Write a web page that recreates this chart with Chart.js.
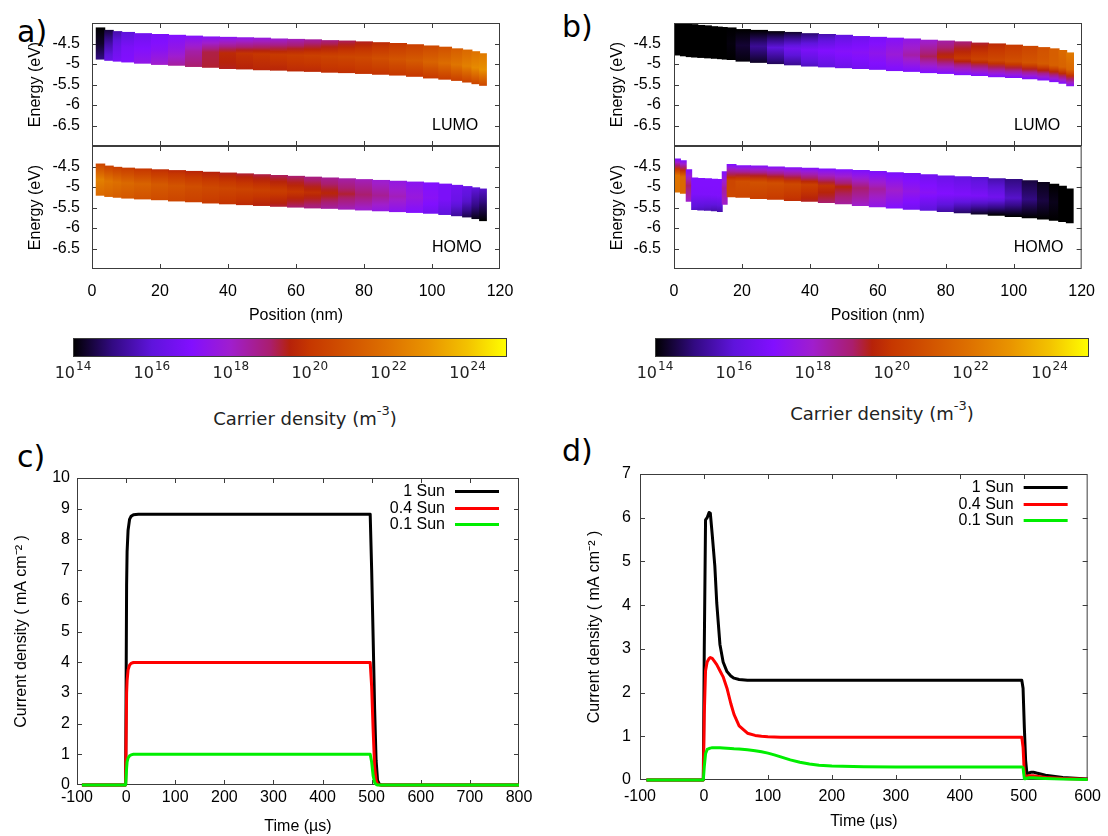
<!DOCTYPE html>
<html>
<head>
<meta charset="utf-8">
<script src="https://cdn.jsdelivr.net/npm/chart.js@4.4.1/dist/chart.umd.min.js"></script>
<style>
  body { margin: 0; background: #fff; }
  #fig { position: relative; width: 1108px; height: 836px; overflow: hidden; background: #fff; }
  #fig canvas { position: absolute; }
  .tag { position: absolute; font: 30px "DejaVu Sans"; line-height: 30px; color: #000; white-space: nowrap; }
  .cbt { position: absolute; width: 320px; text-align: center; font: 18px "DejaVu Sans"; line-height: 20px; color: #222; white-space: nowrap; }
  .cbt sup { font-size: 13px; line-height: 0; position: relative; top: -3px; }
</style>
</head>
<body>
<div id="fig">
  <div class="tag" style="left:17px;top:17px">a)</div>
  <div class="tag" style="left:562px;top:12px">b)</div>
  <div class="tag" style="left:17px;top:442px">c)</div>
  <div class="tag" style="left:562px;top:436px">d)</div>
  <div class="cbt" style="left:145px;top:409px">Carrier density (m<sup>-3</sup>)</div>
  <div class="cbt" style="left:722px;top:404px">Carrier density (m<sup>-3</sup>)</div>
</div>
<script>
// ---- band diagrams: position (nm), band edges (eV), log10 carrier density at top / centre / bottom of band
const posA = [2.5, 5, 7.5, 10, 15, 20, 25, 30, 35, 40, 45, 50, 55, 60, 65, 70, 75, 80, 85, 90, 95, 100, 104, 107.5, 110.5, 113, 115];

const lumoATop = [-4.12, -4.18, -4.21, -4.23, -4.26, -4.28, -4.30, -4.32, -4.34, -4.35, -4.36, -4.37, -4.39, -4.40, -4.41, -4.43, -4.44, -4.46, -4.48, -4.50, -4.53, -4.56, -4.59, -4.63, -4.66, -4.70, -4.75];
const lumoABot = [-4.88, -4.91, -4.93, -4.95, -4.98, -5.01, -5.03, -5.06, -5.08, -5.11, -5.12, -5.14, -5.15, -5.17, -5.18, -5.20, -5.21, -5.23, -5.25, -5.27, -5.30, -5.34, -5.37, -5.40, -5.44, -5.48, -5.52];
const lumoADenTop = [14.0, 14.5, 15.5, 16.0, 16.5, 16.8, 17.0, 17.1, 17.2, 17.3, 17.5, 17.7, 17.9, 18.2, 18.5, 18.8, 19.1, 19.4, 19.7, 20.0, 20.3, 20.6, 20.9, 21.3, 21.7, 22.0, 22.2];
const lumoADenMid = [14.3, 15.5, 16.3, 16.8, 17.0, 17.2, 17.6, 18.4, 19.2, 19.7, 19.9, 20.0, 20.1, 20.2, 20.3, 20.4, 20.5, 20.6, 20.8, 21.0, 21.2, 21.5, 21.8, 22.1, 22.4, 22.7, 22.9];
const lumoADenBot = [15.0, 16.3, 16.8, 17.0, 17.5, 18.0, 18.5, 19.0, 19.3, 19.4, 19.5, 19.6, 19.6, 19.7, 19.7, 19.8, 19.8, 19.9, 19.9, 20.0, 20.0, 20.1, 20.2, 20.3, 20.4, 20.5, 20.6];

const homoATop = [-4.44, -4.49, -4.52, -4.54, -4.56, -4.58, -4.60, -4.62, -4.64, -4.66, -4.68, -4.70, -4.72, -4.74, -4.76, -4.78, -4.80, -4.82, -4.84, -4.86, -4.88, -4.90, -4.93, -4.96, -4.99, -5.02, -5.05];
const homoABot = [-5.20, -5.23, -5.25, -5.27, -5.29, -5.31, -5.34, -5.36, -5.39, -5.41, -5.43, -5.45, -5.47, -5.49, -5.51, -5.52, -5.54, -5.56, -5.58, -5.60, -5.62, -5.64, -5.67, -5.70, -5.73, -5.77, -5.82];
const homoADenTop = [20.5, 20.4, 20.3, 20.2, 20.0, 19.8, 19.7, 19.6, 19.5, 19.4, 19.3, 19.2, 19.1, 19.0, 18.8, 18.6, 18.4, 18.2, 17.9, 17.6, 17.3, 17.0, 16.8, 16.6, 16.3, 16.0, 15.8];
const homoADenMid = [22.4, 22.1, 21.9, 21.7, 21.5, 21.2, 21.0, 20.8, 20.6, 20.5, 20.4, 20.3, 20.2, 20.0, 19.8, 19.6, 19.3, 19.0, 18.6, 18.2, 17.7, 17.2, 16.8, 16.3, 15.8, 15.2, 14.8];
const homoADenBot = [21.7, 21.5, 21.3, 21.1, 20.9, 20.7, 20.5, 20.3, 20.1, 19.9, 19.7, 19.5, 19.3, 19.0, 18.8, 18.5, 18.2, 17.9, 17.6, 17.3, 17.0, 16.6, 16.0, 15.3, 14.6, 14.2, 14.0];

const posB = [1, 2.8, 4.4, 6, 8, 10, 12, 13.6, 14.8, 16.5, 20, 25, 30, 35, 40, 45, 50, 55, 60, 65, 70, 75, 80, 85, 90, 95, 100, 105, 109, 112, 114.5, 116.5];

const lumoBTop = [-4.01, -4.02, -4.03, -4.04, -4.06, -4.07, -4.09, -4.10, -4.11, -4.12, -4.16, -4.18, -4.21, -4.23, -4.26, -4.28, -4.30, -4.33, -4.35, -4.37, -4.39, -4.42, -4.44, -4.46, -4.49, -4.51, -4.54, -4.57, -4.60, -4.63, -4.67, -4.73];
const lumoBBot = [-4.78, -4.80, -4.82, -4.83, -4.84, -4.85, -4.86, -4.87, -4.88, -4.89, -4.93, -4.96, -4.99, -5.02, -5.05, -5.07, -5.09, -5.11, -5.13, -5.16, -5.18, -5.21, -5.23, -5.26, -5.28, -5.31, -5.33, -5.36, -5.39, -5.43, -5.47, -5.53];
const lumoBDenTop = [14.0, 14.0, 14.0, 14.0, 14.0, 14.0, 14.0, 14.0, 14.0, 14.0, 14.0, 14.0, 14.1, 14.4, 14.9, 15.5, 16.1, 16.5, 16.8, 17.1, 17.5, 17.9, 18.4, 18.9, 19.3, 19.7, 20.1, 20.5, 20.9, 21.3, 21.7, 22.2];
const lumoBDenMid = [14.0, 14.0, 14.0, 14.0, 14.0, 14.0, 14.0, 14.0, 14.0, 14.1, 14.4, 15.2, 16.0, 16.5, 16.8, 17.0, 17.1, 17.2, 17.4, 17.8, 18.4, 19.1, 19.7, 20.1, 20.4, 20.6, 20.8, 21.0, 21.2, 21.4, 21.5, 21.6];
const lumoBDenBot = [14.0, 14.0, 14.0, 14.0, 14.0, 14.0, 14.0, 14.0, 14.0, 14.0, 14.1, 14.3, 14.7, 15.2, 15.7, 16.1, 16.4, 16.6, 16.8, 16.9, 16.9, 17.0, 17.0, 17.0, 17.0, 17.0, 17.0, 17.0, 17.0, 17.0, 17.1, 17.2];

const homoBTop = [-4.32, -4.36, -4.58, -4.78, -4.79, -4.80, -4.81, -4.82, -4.63, -4.45, -4.48, -4.49, -4.51, -4.53, -4.54, -4.56, -4.58, -4.60, -4.62, -4.65, -4.67, -4.70, -4.73, -4.75, -4.77, -4.80, -4.82, -4.85, -4.89, -4.93, -4.98, -5.05];
const homoBBot = [-5.12, -5.15, -5.35, -5.55, -5.56, -5.57, -5.58, -5.60, -5.42, -5.24, -5.25, -5.28, -5.30, -5.33, -5.35, -5.38, -5.41, -5.45, -5.48, -5.51, -5.54, -5.57, -5.60, -5.63, -5.66, -5.69, -5.72, -5.75, -5.78, -5.81, -5.84, -5.87];
const homoBDenTop = [17.0, 17.0, 17.0, 17.0, 17.0, 17.0, 17.0, 17.0, 17.0, 17.0, 17.1, 17.2, 17.2, 17.2, 17.1, 17.0, 17.0, 16.9, 16.9, 16.8, 16.7, 16.6, 16.4, 16.2, 15.9, 15.5, 15.0, 14.5, 14.2, 14.0, 14.0, 14.0];
const homoBDenMid = [22.0, 21.7, 19.0, 16.9, 16.9, 16.9, 16.9, 16.9, 18.5, 20.5, 20.8, 20.9, 20.8, 20.6, 20.3, 19.9, 19.5, 19.0, 18.5, 18.0, 17.5, 17.2, 17.0, 16.9, 16.8, 16.5, 15.8, 15.0, 14.5, 14.2, 14.0, 14.0];
const homoBDenBot = [22.0, 21.7, 18.0, 15.8, 15.7, 15.6, 15.5, 15.5, 18.0, 20.6, 20.5, 20.3, 20.1, 19.8, 19.4, 19.0, 18.5, 18.0, 17.5, 17.0, 16.6, 16.0, 15.4, 14.8, 14.3, 14.0, 14.0, 14.0, 14.0, 14.0, 14.0, 14.0];

// colour bar decades (log10 m^-3)
const cbDecades = [14, 15, 16, 17, 18, 19, 20, 21, 22, 23, 24, 25];

// ---- transient photocurrent (time in µs, current density in mA cm^-2)
const sunLabels = ['1 Sun', '0.4 Sun', '0.1 Sun'];

const timeC = [-90, -1, 1, 2, 4, 7, 10, 15, 25, 100, 200, 300, 400, 497, 500, 503, 506, 509, 512, 516, 520, 600, 700, 800];
const j1C   = [0, 0, 6.5, 7.6, 8.3, 8.65, 8.75, 8.8, 8.82, 8.82, 8.82, 8.82, 8.82, 8.82, 7.0, 4.8, 2.5, 0.8, 0.15, 0.02, 0, 0, 0, 0];
const j04C  = [0, 0, 3.0, 3.4, 3.75, 3.9, 3.96, 3.99, 3.99, 3.99, 3.99, 3.99, 3.99, 3.99, 3.2, 1.8, 0.6, 0.15, 0.03, 0, 0, 0, 0, 0];
const j01C  = [0, 0, 0.55, 0.75, 0.88, 0.95, 0.98, 1.0, 1.0, 1.0, 1.0, 1.0, 1.0, 1.0, 0.75, 0.3, 0.08, 0.02, 0, 0, 0, 0, 0, 0];

const timeD = [-90, -1, 0.5, 2.5, 5, 8, 10, 13, 17, 20, 25, 30, 36, 42, 47, 55, 68, 80, 90, 100, 110, 120, 135, 150, 165, 180, 200, 250, 300, 400, 497, 499, 501, 503, 505, 508, 512, 515, 520, 534, 561, 600];
const j1D   = [0, 0, 3.0, 5.95, 6.0, 6.12, 6.1, 5.6, 4.9, 4.05, 3.1, 2.7, 2.48, 2.38, 2.33, 2.3, 2.28, 2.28, 2.28, 2.28, 2.28, 2.28, 2.28, 2.28, 2.28, 2.28, 2.28, 2.28, 2.28, 2.28, 2.28, 2.1, 1.2, 0.45, 0.15, 0.16, 0.18, 0.18, 0.16, 0.11, 0.06, 0.025];
const j04D  = [0, 0, 1.5, 2.5, 2.7, 2.78, 2.8, 2.78, 2.7, 2.64, 2.5, 2.36, 2.1, 1.75, 1.5, 1.24, 1.07, 1.02, 1.0, 0.99, 0.985, 0.98, 0.98, 0.98, 0.98, 0.98, 0.98, 0.98, 0.98, 0.98, 0.98, 0.75, 0.15, 0.07, 0.08, 0.1, 0.1, 0.095, 0.085, 0.06, 0.035, 0.02];
const j01D  = [0, 0, 0.3, 0.6, 0.7, 0.72, 0.73, 0.74, 0.74, 0.74, 0.735, 0.73, 0.725, 0.72, 0.715, 0.71, 0.69, 0.67, 0.645, 0.615, 0.575, 0.53, 0.46, 0.405, 0.365, 0.34, 0.32, 0.305, 0.3, 0.3, 0.3, 0.28, 0.03, 0.03, 0.04, 0.05, 0.05, 0.05, 0.045, 0.035, 0.02, 0.01];

// ---- colour map for log10 density
const palLog = [14, 15, 16, 17, 18, 19, 19.5, 20, 21, 22, 23, 24, 25];
const palRGB = [[0,0,0],[50,10,130],[95,20,220],[130,15,255],[160,30,205],[170,30,110],[182,34,10],[198,55,0],[210,84,0],[222,114,0],[233,148,0],[243,194,0],[255,255,0]];

function colourAt(lg) {
  if (lg <= palLog[0]) return 'rgb(0,0,0)';
  for (let k = 1; k < palLog.length; k++) {
    if (lg <= palLog[k]) {
      const f = (lg - palLog[k - 1]) / (palLog[k] - palLog[k - 1]);
      const a = palRGB[k - 1], b = palRGB[k];
      return 'rgb(' + a.map((v, j) => Math.round(v + (b[j] - v) * f)).join(',') + ')';
    }
  }
  return 'rgb(255,255,0)';
}

Chart.defaults.font.family = '"Liberation Sans", Arial, sans-serif';
Chart.defaults.font.size = 16;
Chart.defaults.color = '#000';

function frameRect(chart) {
  const { ctx, chartArea: a } = chart;
  ctx.save();
  ctx.strokeStyle = '#3c3c3c';
  ctx.lineWidth = 1;
  ctx.strokeRect(a.left + 0.5, a.top + 0.5, a.right - a.left - 1, a.bottom - a.top - 1);
  ctx.restore();
}

// box round the plot area with gnuplot-style inward ticks on all four sides
const framePlugin = {
  id: 'frame',
  beforeDraw(chart, args, o) { if (o.under) frameRect(chart); },
  beforeDatasetsDraw(chart, args, o) {
    const { ctx, chartArea: a } = chart;
    const L = o.tick || 5;
    ctx.save();
    ctx.strokeStyle = '#3c3c3c';
    ctx.lineWidth = 1;
    ctx.beginPath();
    for (const id of (o.axes || ['x', 'y'])) {
      const s = chart.scales[id];
      for (const t of s.ticks) {
        const p = Math.round(s.getPixelForValue(t.value)) + 0.5;
        if (s.isHorizontal()) {
          if (p <= a.left + 1 || p >= a.right - 1) continue;
          ctx.moveTo(p, a.bottom); ctx.lineTo(p, a.bottom - L);
          ctx.moveTo(p, a.top); ctx.lineTo(p, a.top + L);
        } else {
          if (p <= a.top + 1 || p >= a.bottom - 1) continue;
          ctx.moveTo(a.left, p); ctx.lineTo(a.left + L, p);
          ctx.moveTo(a.right, p); ctx.lineTo(a.right - L, p);
        }
      }
    }
    ctx.stroke();
    ctx.restore();
  },
  afterDraw(chart, args, o) { if (!o.under) frameRect(chart); }
};

// LUMO / HOMO caption inside the band panels
const tagPlugin = {
  id: 'tag',
  afterDraw(chart, args, o) {
    if (!o.text) return;
    const { ctx, chartArea: a } = chart;
    ctx.save();
    ctx.font = '16px "Liberation Sans", Arial, sans-serif';
    ctx.fillStyle = '#000';
    ctx.textAlign = 'left';
    ctx.textBaseline = 'middle';
    ctx.fillText(o.text, a.right - 68, a.top + o.dy);
    ctx.restore();
  }
};

// key in the top right corner: label, then a line sample
const keyPlugin = {
  id: 'key',
  afterDraw(chart) {
    const { ctx, chartArea: a } = chart;
    ctx.save();
    ctx.font = '16px "Liberation Sans", Arial, sans-serif';
    ctx.textAlign = 'right';
    ctx.textBaseline = 'middle';
    chart.data.datasets.forEach((ds, i) => {
      const y = Math.round(a.top + 13 + i * 16.6) + 0.5;
      ctx.fillStyle = '#000';
      ctx.fillText(ds.label, a.right - 74, y);
      ctx.strokeStyle = ds.borderColor;
      ctx.lineWidth = 3;
      ctx.beginPath();
      ctx.moveTo(a.right - 64, y);
      ctx.lineTo(a.right - 20, y);
      ctx.stroke();
    });
    ctx.restore();
  }
};

// colour bar labels: 10 with a raised exponent, every second decade
const decadeLabelPlugin = {
  id: 'decades',
  afterDraw(chart) {
    const { ctx, chartArea: a } = chart;
    const xs = chart.scales.x;
    const base = a.bottom + 20.5;
    ctx.save();
    ctx.fillStyle = '#222';
    ctx.textBaseline = 'alphabetic';
    ctx.textAlign = 'left';
    cbDecades.forEach(e => {
      if (e % 2 !== 0 || e === cbDecades[cbDecades.length - 1]) return;
      const px = xs.getPixelForValue(Math.pow(10, e));
      ctx.font = '16px "DejaVu Sans"';
      const w1 = ctx.measureText('10').width;
      ctx.font = '12px "DejaVu Sans"';
      const w2 = ctx.measureText(String(e)).width;
      const x0 = px - (w1 + w2 + 1) / 2;
      ctx.font = '16px "DejaVu Sans"';
      ctx.fillText('10', x0, base);
      ctx.font = '12px "DejaVu Sans"';
      ctx.fillText(String(e), x0 + w1 + 1, base - 8);
    });
    ctx.restore();
  }
};

function place(id, left, top, w, h) {
  const c = document.createElement('canvas');
  c.id = id;
  c.width = w; c.height = h;
  c.style.left = left + 'px'; c.style.top = top + 'px';
  c.style.width = w + 'px'; c.style.height = h + 'px';
  document.getElementById('fig').appendChild(c);
  return c;
}

// vertical colour gradient for one band column
function bandFill(dTop, dMid, dBot) {
  return function (c) {
    const i = c.dataIndex;
    const chart = c.chart;
    const ys = chart.scales && chart.scales.y;
    if (i === undefined || !ys || !c.raw) return '#000';
    const y0 = ys.getPixelForValue(c.raw.y[1]);
    const y1 = ys.getPixelForValue(c.raw.y[0]);
    if (!isFinite(y0) || !isFinite(y1) || y1 - y0 < 1) return colourAt(dMid[i]);
    const g = chart.ctx.createLinearGradient(0, y0, 0, y1);
    for (let s = 0; s <= 10; s++) {
      const f = s / 10;
      const lg = f <= 0.5 ? dTop[i] + (dMid[i] - dTop[i]) * f * 2
                          : dMid[i] + (dBot[i] - dMid[i]) * (f - 0.5) * 2;
      g.addColorStop(f, colourAt(lg));
    }
    return g;
  };
}

const quiet = { legend: { display: false }, tooltip: { enabled: false } };

function bandChart(canvas, o) {
  return new Chart(canvas, {
    type: 'bar',
    data: {
      datasets: [{
        data: o.pos.map((x, i) => ({ x: x, y: [o.bot[i], o.top[i]] })),
        backgroundColor: bandFill(o.dTop, o.dMid, o.dBot),
        borderWidth: 0,
        barThickness: 'flex',
        categoryPercentage: 1,
        barPercentage: 1,
        inflateAmount: 0.5
      }]
    },
    options: {
      responsive: false, animation: false, events: [],
      layout: { padding: o.pad },
      plugins: Object.assign({ frame: { tick: 5 }, tag: { text: o.tag, dy: o.tagY } }, quiet),
      scales: {
        x: {
          type: 'linear', offset: false, min: 0, max: 120,
          grid: { display: false, drawTicks: false }, border: { display: false },
          ticks: { stepSize: 20, display: o.xLabels, padding: 13, autoSkip: false, maxRotation: 0 },
          title: { display: o.xLabels, text: 'Position (nm)', padding: { top: 0, bottom: 10 } },
          afterFit: s => { s.height = o.xh; }
        },
        y: {
          min: -7, max: -4,
          grid: { display: false, drawTicks: false }, border: { display: false },
          ticks: { stepSize: 0.5, padding: o.yPad, autoSkip: false, callback: v => (v <= -7 || v >= -4) ? '' : v },
          title: { display: true, text: 'Energy (eV)', padding: { top: o.yTitle, bottom: 0 } },
          afterFit: s => { s.width = o.yw; }
        }
      }
    },
    plugins: [framePlugin, tagPlugin]
  });
}

function colourBar(canvas, padLeft, padRight) {
  const lo = Math.pow(10, cbDecades[0]);
  const hi = Math.pow(10, cbDecades[cbDecades.length - 1]);
  return new Chart(canvas, {
    type: 'bar',
    data: {
      labels: [''],
      datasets: [{
        data: [[lo, hi]],
        backgroundColor: c => {
          const xs = c.chart.scales && c.chart.scales.x;
          if (!xs) return '#000';
          const x0 = xs.getPixelForValue(lo), x1 = xs.getPixelForValue(hi);
          if (!isFinite(x0) || !isFinite(x1) || x1 - x0 < 1) return '#000';
          const g = c.chart.ctx.createLinearGradient(x0, 0, x1, 0);
          palLog.forEach(v => g.addColorStop((v - palLog[0]) / (palLog[palLog.length - 1] - palLog[0]), colourAt(v)));
          return g;
        },
        borderWidth: 0, categoryPercentage: 1, barPercentage: 1, inflateAmount: 0
      }]
    },
    options: {
      indexAxis: 'y',
      responsive: false, animation: false, events: [],
      layout: { padding: { left: padLeft, right: padRight, top: 18, bottom: 0 } },
      plugins: Object.assign({ frame: { tick: 4, axes: ['x'] } }, quiet),
      scales: {
        x: {
          type: 'logarithmic', min: lo, max: hi,
          grid: { display: false, drawTicks: false }, border: { display: false },
          afterBuildTicks: s => { s.ticks = cbDecades.map(e => ({ value: Math.pow(10, e) })); },
          ticks: { display: false },
          afterFit: s => { s.height = 63; }
        },
        y: { display: false }
      }
    },
    plugins: [framePlugin, decadeLabelPlugin]
  });
}

function currentChart(canvas, o) {
  const colours = ['#000000', '#ff0000', '#00ee00'];
  return new Chart(canvas, {
    type: 'line',
    data: {
      datasets: o.series.map((vals, k) => ({
        label: sunLabels[k],
        data: o.time.map((t, i) => ({ x: t, y: vals[i] })),
        borderColor: colours[k],
        borderWidth: 3,
        borderJoinStyle: 'round',
        pointRadius: 0,
        tension: 0,
        fill: false,
        clip: 3,
        order: o.series.length - k
      }))
    },
    options: {
      responsive: false, animation: false, events: [],
      layout: { padding: o.pad },
      plugins: Object.assign({ frame: { tick: 5, under: true } }, quiet),
      scales: {
        x: {
          type: 'linear', min: -100, max: o.xMax,
          grid: { display: false, drawTicks: false }, border: { display: false },
          ticks: { stepSize: 100, padding: o.xPad, autoSkip: false, maxRotation: 0 },
          title: { display: true, text: 'Time (µs)', padding: { top: 0, bottom: o.xTitle } },
          afterFit: s => { s.height = o.xh; }
        },
        y: {
          min: 0, max: o.yMax,
          grid: { display: false, drawTicks: false }, border: { display: false },
          ticks: { stepSize: 1, padding: o.yPad, autoSkip: false },
          title: { display: true, text: 'Current density ( mA cm⁻² )', padding: { top: o.yTitle, bottom: 0 } },
          afterFit: s => { s.width = o.yw; }
        }
      }
    },
    plugins: [framePlugin, keyPlugin]
  });
}

// a) LUMO / HOMO  (the LUMO canvas runs past the panel join so its labels have room)
bandChart(place('aLumo', 0, 0, 540, 170), {
  pos: posA, top: lumoATop, bot: lumoABot, dTop: lumoADenTop, dMid: lumoADenMid, dBot: lumoADenBot,
  tag: 'LUMO', tagY: 103, xLabels: false, xh: 24, yw: 92, yPad: 12, yTitle: 26,
  pad: { left: 0, right: 40, top: 23, bottom: 0 }
});
bandChart(place('aHomo', 0, 120, 540, 215), {
  pos: posA, top: homoATop, bot: homoABot, dTop: homoADenTop, dMid: homoADenMid, dBot: homoADenBot,
  tag: 'HOMO', tagY: 102, xLabels: true, xh: 66, yw: 92, yPad: 12, yTitle: 26,
  pad: { left: 0, right: 40, top: 26, bottom: 0 }
});

// b) LUMO / HOMO
bandChart(place('bLumo', 554, 0, 554, 170), {
  pos: posB, top: lumoBTop, bot: lumoBBot, dTop: lumoBDenTop, dMid: lumoBDenMid, dBot: lumoBDenBot,
  tag: 'LUMO', tagY: 103, xLabels: false, xh: 24, yw: 120, yPad: 13, yTitle: 54,
  pad: { left: 0, right: 26, top: 23, bottom: 0 }
});
bandChart(place('bHomo', 554, 120, 554, 215), {
  pos: posB, top: homoBTop, bot: homoBBot, dTop: homoBDenTop, dMid: homoBDenMid, dBot: homoBDenBot,
  tag: 'HOMO', tagY: 102, xLabels: true, xh: 66, yw: 120, yPad: 13, yTitle: 54,
  pad: { left: 0, right: 26, top: 26, bottom: 0 }
});

// colour bars
colourBar(place('cbA', 0, 320, 540, 100), 73, 33);
colourBar(place('cbB', 554, 320, 554, 100), 101, 19);

// c) and d) transients
currentChart(place('cPlot', 0, 430, 554, 406), {
  time: timeC, series: [j1C, j04C, j01C], xMax: 800, yMax: 10,
  xh: 51, xPad: 3, xTitle: 0, yw: 77, yPad: 7, yTitle: 12,
  pad: { left: 0, right: 35, top: 48, bottom: 0 }
});
currentChart(place('dPlot', 554, 430, 554, 406), {
  time: timeD, series: [j1D, j04D, j01D], xMax: 600, yMax: 7,
  xh: 56, xPad: 7, xTitle: 5, yw: 86, yPad: 9, yTitle: 31,
  pad: { left: 0, right: 16, top: 44, bottom: 0 }
});
</script>
</body>
</html>
